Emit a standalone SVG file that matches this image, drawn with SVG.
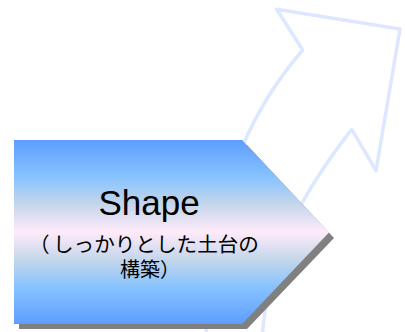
<svg xmlns="http://www.w3.org/2000/svg" width="405" height="332" viewBox="0 0 405 332">
  <style>
    .arrow { fill: #ffffff; stroke: #dde8ff; stroke-width: 3.5; stroke-linejoin: round; }
    .shadow { fill: #808080; }
    .body { fill: url(#daybreak); }
    .t { font-family: "Liberation Sans", "Noto Sans CJK JP", sans-serif; fill: #000000; text-anchor: middle; }
    .ts { font-family: "Liberation Sans", "Noto Sans CJK JP", sans-serif; fill: #000000; text-anchor: start; }
  </style>
  <defs>
    <linearGradient id="daybreak" x1="0" y1="0" x2="0" y2="1">
      <stop offset="0" stop-color="#5E9EFF"/>
      <stop offset="0.195" stop-color="#85C2FF"/>
      <stop offset="0.35" stop-color="#C4D6EB"/>
      <stop offset="0.5" stop-color="#FFEBFA"/>
      <stop offset="0.65" stop-color="#C4D6EB"/>
      <stop offset="0.805" stop-color="#85C2FF"/>
      <stop offset="1" stop-color="#5E9EFF"/>
    </linearGradient>
  </defs>
  <rect width="405" height="332" fill="#ffffff"/>
  <g id="curved-arrow">
    <path class="arrow" d="M 276.7 9.3 L 400 29 L 376 170.7 L 351.7 129.3 C 320 170 268 240 262 340 L 206 340 C 208 170 270 88 302.7 50 Z"/>
  </g>
  <g id="shape-node">
    <polygon class="shadow" points="19,145 247,145 334,238 247,329 19,329"/>
    <polygon class="body" points="14,140 242,140 329,232.5 242,324 14,324"/>
    <text class="t" x="149" y="215" font-size="35">Shape</text>
    <text class="ts" y="252" font-size="20.6"><tspan x="29">（</tspan><tspan x="53">しっかりとした土台の</tspan></text>
    <text class="t" x="150" y="277" font-size="20">構築）</text>
  </g>
</svg>
